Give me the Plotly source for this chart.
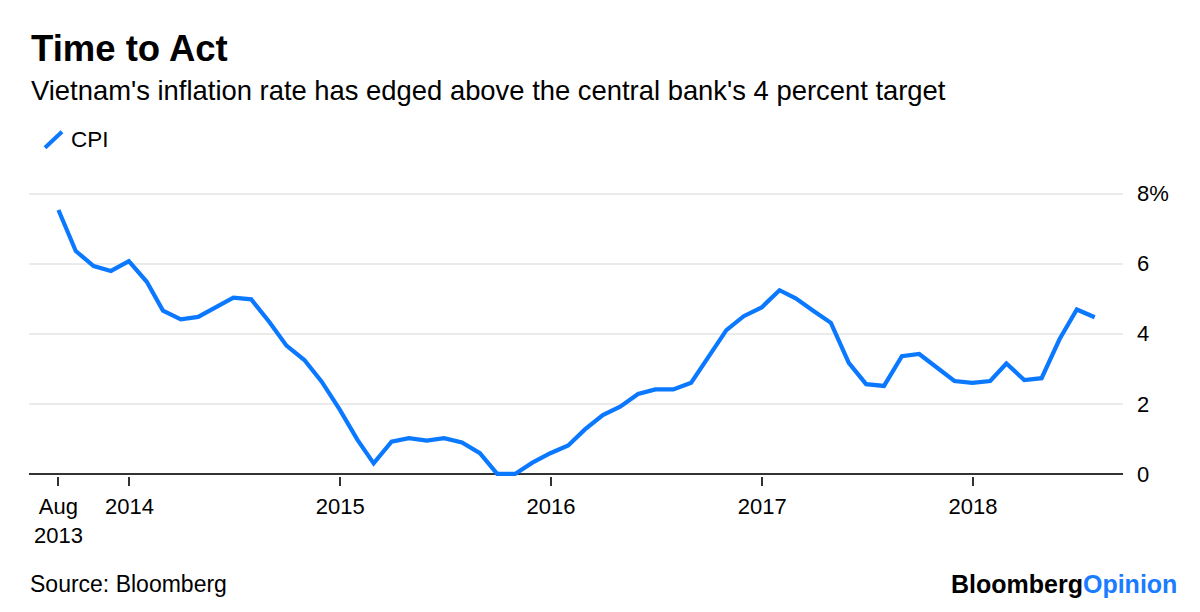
import pandas as pd
import plotly.graph_objects as go

# ---- data ----
start_month = "2013-08-31"
cpi_values = [
    7.53, 6.36, 5.93, 5.79, 6.07,
    5.48, 4.66, 4.41, 4.48, 4.75, 5.03, 4.98, 4.34, 3.66, 3.25, 2.63, 1.84,
    0.97, 0.30, 0.92, 1.02, 0.95, 1.02, 0.90, 0.59, 0.00, 0.00, 0.32, 0.59,
    0.81, 1.27, 1.68, 1.92, 2.28, 2.41, 2.41, 2.60, 3.34, 4.10, 4.50, 4.75,
    5.24, 5.01, 4.65, 4.31, 3.17, 2.56, 2.51, 3.36, 3.42, 3.01, 2.65, 2.60,
    2.65, 3.15, 2.68, 2.73, 3.84, 4.69, 4.47,
]
dates = pd.date_range(start_month, periods=len(cpi_values), freq="ME")

x_tick_vals = ["2013-08-31", "2014-01-01", "2015-01-01", "2016-01-01", "2017-01-01", "2018-01-01"]
x_tick_text = ["Aug<br>2013", "2014", "2015", "2016", "2017", "2018"]
y_tick_vals = [0, 2, 4, 6, 8]
y_tick_text = ["0", "2", "4", "6", "8%"]

title = "<b>Time to Act</b>"
subtitle = "Vietnam's inflation rate has edged above the central bank's 4 percent target"
series_name = "CPI"
source = "Source: Bloomberg"

# ---- layout geometry ----
W, H = 1200, 612
Y_LO, Y_HI = -0.06, 8.1
UNIT = (474 - 193.3) / 8.0
L, R = 29, 1123
T = 193.3 - (Y_HI - 8) * UNIT
B = 474 - Y_LO * UNIT
BLUE = "#0a78ff"
FONT = "Liberation Sans, Arial, sans-serif"


def px(x):
    return (x - L) / (R - L)


def py(y):
    return (B - y) / (B - T)


fig = go.Figure()
fig.add_trace(go.Scatter(
    x=dates, y=cpi_values, mode="lines", name=series_name,
    line=dict(color=BLUE, width=4.2, shape="linear"),
    showlegend=False, hoverinfo="x+y",
))

fig.update_layout(
    width=W, height=H,
    margin=dict(l=L, r=W - R, t=T, b=H - B, pad=0),
    paper_bgcolor="white", plot_bgcolor="white",
    font=dict(family=FONT, color="#000000", size=22),
    showlegend=False,
    xaxis=dict(
        type="date",
        range=["2013-07-11", "2018-09-18"],
        tickmode="array", tickvals=x_tick_vals, ticktext=x_tick_text,
        ticks="outside", ticklen=9, tickwidth=1.5, tickcolor="#333333",
        showgrid=False, showline=False, zeroline=False,
        tickfont=dict(size=22, family=FONT, color="#000000"),
        ticklabelstandoff=2,
    ),
    yaxis=dict(
        side="right",
        range=[Y_LO, Y_HI],
        tickmode="array", tickvals=y_tick_vals, ticktext=y_tick_text,
        ticks="", showline=False,
        showgrid=True, gridcolor="#ebebeb", gridwidth=2,
        zeroline=True, zerolinecolor="#333333", zerolinewidth=1.5,
        tickfont=dict(size=22, family=FONT, color="#000000"),
        ticklabelstandoff=13,
    ),
)

annotations = [
    dict(x=px(29), y=py(48), text=title, font=dict(size=36.5, color="#000000")),
    dict(x=px(29), y=py(90), text=subtitle, font=dict(size=27.4, color="#000000")),
    dict(x=px(69), y=py(139), text=series_name, font=dict(size=22.5, color="#000000")),
    dict(x=px(28), y=py(584), text=source, font=dict(size=23, color="#000000")),
    dict(x=px(1179), y=py(584), xanchor="right",
         text="<b>Bloomberg<span style='color:#1a7cff'>Opinion</span></b>",
         font=dict(size=25, color="#000000")),
]
for a in annotations:
    a.setdefault("xanchor", "left")
    fig.add_annotation(xref="paper", yref="paper", yanchor="middle",
                       showarrow=False, **a)

fig.add_shape(type="line", xref="paper", yref="paper",
              x0=px(45), y0=py(147.5), x1=px(62), y1=py(131.5),
              line=dict(color=BLUE, width=4))

fig.write_html("out.html", config={"displayModeBar": False},
               post_script="document.body.style.margin='0';")
